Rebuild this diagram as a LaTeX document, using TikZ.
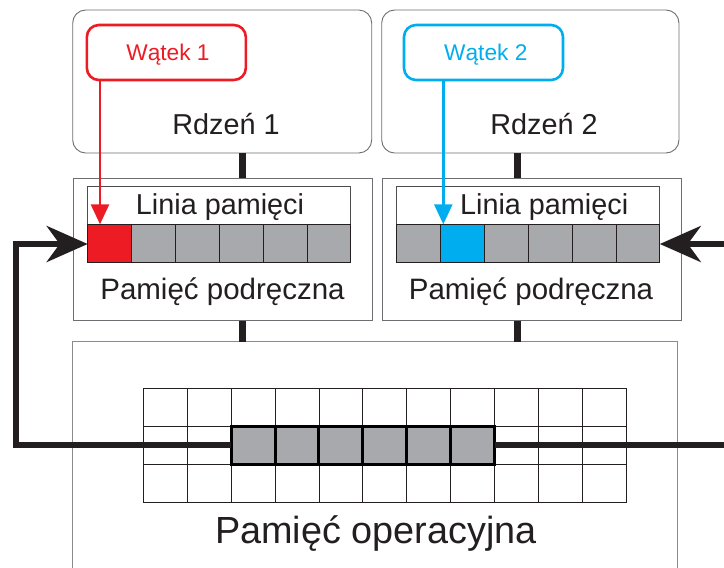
\documentclass[tikz,border=0pt]{standalone}
\usepackage{fontspec}
\setmainfont{Liberation Sans}
\usetikzlibrary{arrows.meta}
\definecolor{ink}{HTML}{231F20}
\definecolor{frame}{HTML}{6D6E71}
\definecolor{cellgray}{HTML}{A7A9AC}
\definecolor{threadred}{HTML}{ED1C24}
\definecolor{threadblue}{HTML}{00AEEF}
\begin{document}
\begin{tikzpicture}[x=1pt,y=-1pt,
  box/.style={draw=frame, line width=0.9pt, inner sep=0pt, outer sep=0pt, fill=white},
  corebox/.style={box, rounded corners=13pt},
  threadbox/.style={draw=#1, line width=2.6pt, rounded corners=12pt, inner sep=0pt, outer sep=0pt,
    minimum height=55, minimum width=159},
  linebox/.style={box, draw=ink!80, line width=0.8pt, minimum height=37.6, minimum width=263.1},
  cell/.style={draw=ink, line width=0.8pt, fill=cellgray, inner sep=0pt, outer sep=0pt,
    minimum width=43.85, minimum height=38.4},
  gridcell/.style={draw=ink, line width=0.7pt, inner sep=0pt, outer sep=0pt,
    minimum width=43.9, minimum height=38},
  hotcell/.style={gridcell, fill=cellgray, draw=black, line width=3pt},
  bus/.style={draw=ink, line width=7pt},
  heavy/.style={draw=ink, line width=6pt},
  bigtip/.style={-{Stealth[length=41pt, width=36pt, inset=13pt]}},
  threadarrow/.style={draw=#1, line width=2.6pt, -{Triangle[length=20pt, width=18pt]}},
  lbl/.style={text=ink, inner sep=0pt, anchor=base},
]
\clip (0,0) rectangle (724,568);

% ---- cores -------------------------------------------------------------
\node[corebox, minimum width=299, minimum height=143] (core1) at (222.2,81.5) {};
\node[corebox, minimum width=297.3, minimum height=143] (core2) at (530.35,81.5) {};
\node[lbl, font=\fontsize{28.8}{34}\selectfont] (core1txt) at (226,134) {Rdzeń 1};
\node[lbl, font=\fontsize{28.8}{34}\selectfont] (core2txt) at (544,134) {Rdzeń 2};

% ---- threads -----------------------------------------------------------
\node[threadbox=threadred] (th1) at (166.35,52.5) {};
\node[threadbox=threadblue] (th2) at (483.5,52.5) {};
\node[lbl, text=threadred, font=\fontsize{22.7}{27}\selectfont] (th1txt) at (168,60) {Wątek 1};
\node[lbl, text=threadblue, font=\fontsize{22.7}{27}\selectfont] (th2txt) at (485.8,60) {Wątek 2};

% ---- caches ------------------------------------------------------------
\node[box, minimum width=299, minimum height=142.4] (cache1) at (222.8,249.5) {};
\node[box, minimum width=298.3, minimum height=142.4] (cache2) at (531.85,249.5) {};

\node[linebox, anchor=north west] (line1) at (87.7,186.7) {};
\node[linebox, anchor=north west] (line2) at (396.7,186.7) {};
\node[lbl, font=\fontsize{28.8}{34}\selectfont] (line1txt) at (220,214.3) {Linia pamięci};
\node[lbl, font=\fontsize{28.8}{34}\selectfont] (line2txt) at (544.2,214.3) {Linia pamięci};

\foreach \i in {0,...,5} {
  \node[cell, anchor=north west] (a\i) at (87.7+43.85*\i,224.3) {};
  \node[cell, anchor=north west] (b\i) at (396.7+43.85*\i,224.3) {};
}
\node[cell, anchor=north west, fill=threadred] (a0) at (87.7,224.3) {};
\node[cell, anchor=north west, fill=threadblue] (b1) at (440.55,224.3) {};

\node[lbl, font=\fontsize{29.5}{35}\selectfont] (cache1txt) at (222.5,299.3) {Pamięć podręczna};
\node[lbl, font=\fontsize{29.5}{35}\selectfont] (cache2txt) at (531,299.3) {Pamięć podręczna};

% ---- main memory -------------------------------------------------------
\node[box, draw=frame!80, minimum width=605, minimum height=258.6] (mem) at (375.2,471) {};
\foreach \r in {0,1,2} {
  \foreach \c in {0,...,10} {
    \node[gridcell, anchor=north west] (g\r-\c) at (143.3+43.9*\c,388.3+38*\r) {};
  }
}
\foreach \c in {2,...,7} {
  \node[hotcell, anchor=north west] (h\c) at (143.3+43.9*\c,426.3) {};
}
\node[lbl, font=\fontsize{37.8}{45}\selectfont] (memtxt) at (375.8,543) {Pamięć operacyjna};

% ---- buses between levels ----------------------------------------------
\coordinate (busA) at (242.7,0);
\coordinate (busB) at (517,0);
\draw[bus] (core1.south -| busA) -- (cache1.north -| busA);
\draw[bus] (core2.south -| busB) -- (cache2.north -| busB);
\draw[bus] (cache1.south -| busA) -- (mem.north -| busA);
\draw[bus] (cache2.south -| busB) -- (mem.north -| busB);

% ---- thread accesses ---------------------------------------------------
\coordinate (tx1) at (100,0);
\coordinate (tx2) at (443.3,0);
\draw[threadarrow=threadred] (th1.south -| tx1) -- (a0.north -| tx1);
\draw[threadarrow=threadblue] (th2.south -| tx2) -- (b1.north -| tx2);

% ---- memory line loaded into both caches -------------------------------
\coordinate (leftrail) at (16.3,244);
\coordinate (rightrail) at (745,244);
\draw[heavy, bigtip] (h2.west) -| (leftrail) -- (a0.west |- leftrail);
\draw[heavy, bigtip] (h7.east) -| (rightrail) -- (b5.east |- rightrail);
\end{tikzpicture}
\end{document}
